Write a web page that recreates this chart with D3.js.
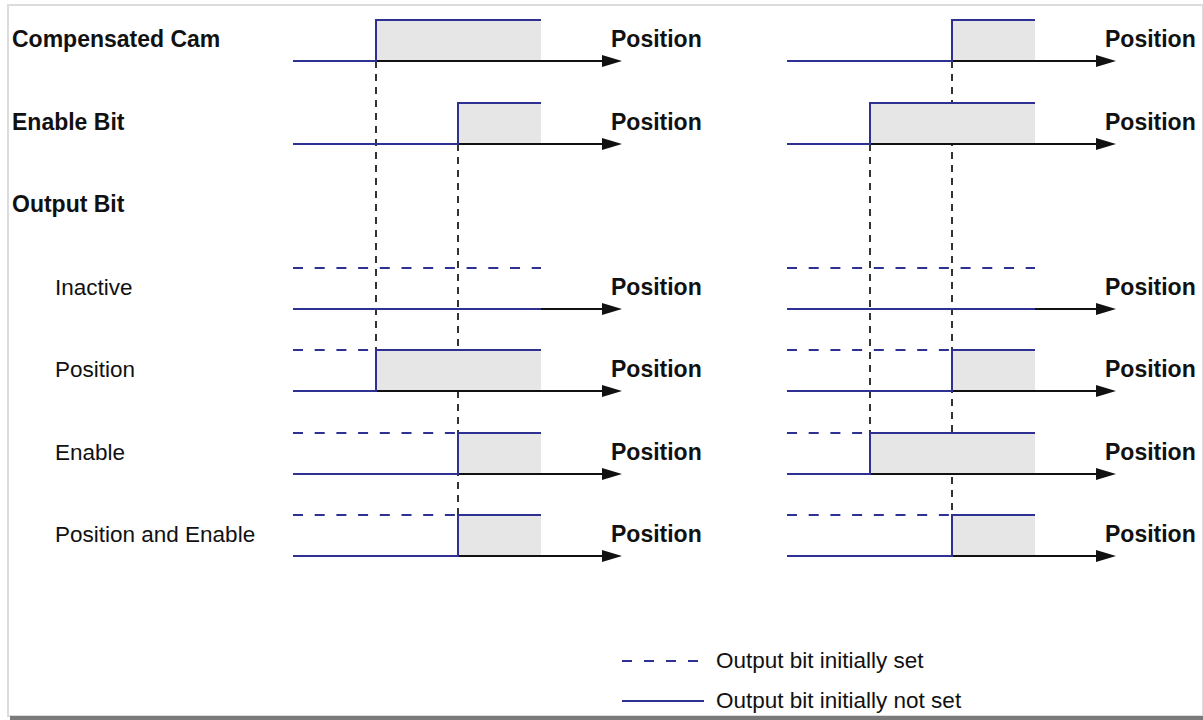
<!DOCTYPE html>
<html>
<head>
<meta charset="utf-8">
<script src="https://cdn.jsdelivr.net/npm/d3@7"></script>
<style>
  body { margin: 0; background: #fff; }
  svg { display: block; }
  text { font-family: "Liberation Sans", Arial, sans-serif; fill: #111; }
</style>
</head>
<body>
<div id="chart"></div>
<script>
// row labels (index = row slot from the top)
let rowLabels = ["Compensated Cam", "Enable Bit", "Output Bit", "Inactive", "Position", "Enable", "Position and Enable"]
let rowBold = [true, true, true, false, false, false, false]

// switch-on position of each signal, one value per panel (left, right); null = never on
let camOn = [10, 20]
let enableOn = [20, 10]
let inactiveOn = [null, null]
let positionOn = [10, 20]
let enableModeOn = [20, 10]
let posEnableOn = [20, 20]

let positionEnd = 30
let axisLabel = "Position"
let legendLabels = ["Output bit initially set", "Output bit initially not set"]

function createTiming(){
    let width = 1203, height = 720
    let blue = "#2e3192"

    let svg = d3.select('#chart')
        .append('svg')
        .attr('width', width)
        .attr('height', height)

    // frame
    svg.append('rect')
        .attr('x', 8).attr('y', 5)
        .attr('width', width - 8).attr('height', 711)
        .attr('fill', '#fff')
        .attr('stroke', '#dcdcdc')
        .attr('stroke-width', 2)
    svg.append('rect')
        .attr('x', 10).attr('y', 716)
        .attr('width', width - 10).attr('height', 4)
        .attr('fill', '#7a7a7a')

    let yRow = d3.scaleLinear().domain([0, 6]).range([20, 515]).interpolate(d3.interpolateRound)
    let rowH = 41

    // signals per row slot
    let rows = [
        {slot: 0, on: camOn, initSet: false},
        {slot: 1, on: enableOn, initSet: false},
        {slot: 3, on: inactiveOn, initSet: true},
        {slot: 4, on: positionOn, initSet: true},
        {slot: 5, on: enableModeOn, initSet: true},
        {slot: 6, on: posEnableOn, initSet: true}
    ]

    // labels on the left
    svg.selectAll('.rowLabel')
        .data(rowLabels)
        .enter()
        .append('text')
        .attr('class', 'rowLabel')
        .attr('x', (d, i) => rowBold[i] ? 12 : 55)
        .attr('y', (d, i) => yRow(i) + 27)
        .style('font-size', (d, i) => rowBold[i] ? '23px' : '22.5px')
        .style('font-weight', (d, i) => rowBold[i] ? 'bold' : 'normal')
        .text(d => d)

    let panelLeft = [293, 787]

    for (let p = 0; p < 2; p++){
        let x = d3.scaleLinear()
            .domain([0, positionEnd])
            .range([panelLeft[p], panelLeft[p] + 248])
            .interpolate(d3.interpolateRound)
        let tip = x(positionEnd) + 81
        let g = svg.append('g')

        // dashed guides: from the driving signal down to the last output row that switches there
        let guides = [
            {t: camOn[p], from: 0},
            {t: enableOn[p], from: 1}
        ]
        guides.forEach(gd => {
            let last = rows.filter(r => r.slot >= 3 && r.on[p] === gd.t)
            let lastSlot = d3.max(last, r => r.slot)
            g.append('line')
                .attr('x1', x(gd.t)).attr('x2', x(gd.t))
                .attr('y1', yRow(gd.from) + rowH)
                .attr('y2', yRow(lastSlot))
                .attr('stroke', '#333')
                .attr('stroke-width', 2)
                .attr('stroke-dasharray', '7,6')
        })

        rows.forEach(r => {
            let top = yRow(r.slot), low = top + rowH
            let t = r.on[p]

            // shaded on-region
            if (t !== null){
                g.append('rect')
                    .attr('x', x(t)).attr('y', top)
                    .attr('width', x(positionEnd) - x(t))
                    .attr('height', rowH)
                    .attr('fill', '#e6e6e6')
            }

            // axis with arrow
            g.append('line')
                .attr('x1', x(0)).attr('x2', tip - 12)
                .attr('y1', low).attr('y2', low)
                .attr('stroke', '#111')
                .attr('stroke-width', 2)
            g.append('path')
                .attr('d', `M${tip},${low} L${tip - 20},${low - 6} L${tip - 20},${low + 6} Z`)
                .attr('fill', '#111')
            g.append('text')
                .attr('x', tip - 11)
                .attr('y', low - 14)
                .style('font-size', '23px')
                .style('font-weight', 'bold')
                .text(axisLabel)

            // initially set (dashed) level
            if (r.initSet){
                g.append('line')
                    .attr('x1', x(0))
                    .attr('x2', t === null ? x(positionEnd) : x(t))
                    .attr('y1', top).attr('y2', top)
                    .attr('stroke', blue)
                    .attr('stroke-width', 2)
                    .attr('stroke-dasharray', '10,11.7')
            }

            // signal trace
            let pts = t === null
                ? [[0, 0], [positionEnd, 0]]
                : [[0, 0], [t, 0], [t, 1], [positionEnd, 1]]
            let line = d3.line()
                .x(d => x(d[0]))
                .y(d => d[1] ? top : low)
            g.append('path')
                .attr('d', line(pts))
                .attr('fill', 'none')
                .attr('stroke', blue)
                .attr('stroke-width', 2)
        })
    }

    // legend
    let leg = svg.append('g').attr('transform', 'translate(622,0)')
    let legY = [661, 701]
    leg.selectAll('line')
        .data(legendLabels)
        .enter()
        .append('line')
        .attr('x1', 0).attr('x2', 82)
        .attr('y1', (d, i) => legY[i]).attr('y2', (d, i) => legY[i])
        .attr('stroke', blue)
        .attr('stroke-width', 2)
        .attr('stroke-dasharray', (d, i) => i == 0 ? '10,12' : null)
    leg.selectAll('text')
        .data(legendLabels)
        .enter()
        .append('text')
        .attr('x', 94)
        .attr('y', (d, i) => legY[i] + 7)
        .style('font-size', '22.5px')
        .text(d => d)
}

createTiming()
</script>
</body>
</html>
